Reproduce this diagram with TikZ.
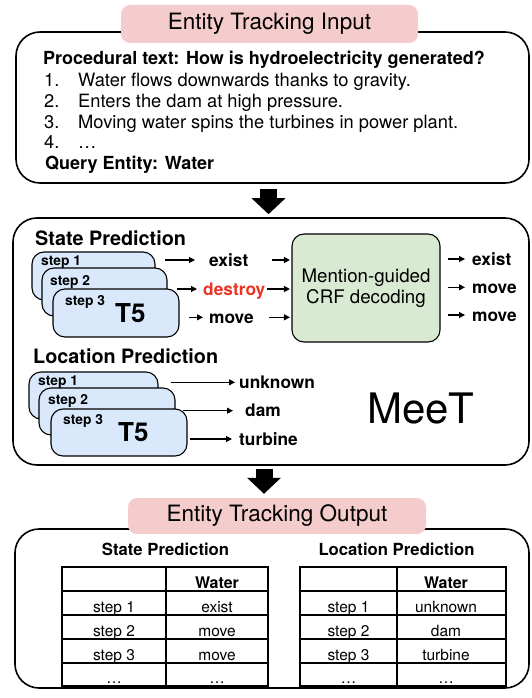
\documentclass[tikz,border=0pt]{standalone}
\usepackage{fontspec}
\setmainfont{TeX Gyre Heros}
\usetikzlibrary{arrows.meta}
\definecolor{pillpink}{HTML}{F4CCCC}
\definecolor{stepblue}{HTML}{DAE8FC}
\definecolor{crfgreen}{HTML}{D9EAD3}
\definecolor{destroyred}{HTML}{EB3323}
\tikzset{
	bigbox/.style = {draw, line width = 1.6pt, rounded corners = 24pt},
	pill/.style = {fill = pillpink, rounded corners = 9pt, minimum width = 297pt, minimum height = 38pt, font = \fontsize{22.5}{26}\selectfont},
	stepbox/.style = {draw, fill = stepblue, line width = 1.1pt, rounded corners = 12pt, minimum height = 48pt},
	txt/.style = {inner sep = 0pt, anchor = base west, font = \fontsize{18.3}{21}\selectfont},
	txtb/.style = {txt, font = \fontsize{18}{21}\selectfont\bfseries},
	head/.style = {txt, font = \fontsize{19.8}{23}\selectfont\bfseries},
	steplbl/.style = {txt, font = \fontsize{13.8}{16}\selectfont\bfseries},
	tfive/.style = {txt, font = \fontsize{26}{30}\selectfont\bfseries},
	pred/.style = {txt, font = \fontsize{17.3}{20}\selectfont\bfseries, text height = 15pt, text depth = 3pt},
	arr/.style = {line width = 1.1pt, shorten < = 9.5pt, shorten > = 6pt, -{Triangle[length = 6pt, width = 6pt]}},
	bigarrow/.style = {line width = 17pt, -{Triangle[length = 16pt, width = 33pt]}},
	tbl/.style = {line width = 1.2pt},
	thead/.style = {inner sep = 0pt, anchor = base, font = \fontsize{16.7}{19}\selectfont\bfseries},
	cell/.style = {inner sep = 0pt, anchor = base, font = \fontsize{15.5}{18}\selectfont},
	cellb/.style = {cell, font = \fontsize{16}{18}\selectfont\bfseries},
}
\begin{document}
\begin{tikzpicture}[x = 1pt, y = -1pt]
	\useasboundingbox (0,0) rectangle (532,698);
	\node [bigbox, minimum width = 513pt, minimum height = 151pt](inbox) at (272.5,107.5) {};
	\node [pill](inpill) at (269.5,24) {Entity Tracking Input};
	\node [txtb](proc) at (43,65) {Procedural text: How is hydroelectricity generated?};
	\node [txt](n1) at (44,86.7) {1.};
	\node [txt](l1) at (78,86.7) {Water flows downwards thanks to gravity.};
	\node [txt](n2) at (44,107.7) {2.};
	\node [txt](l2) at (78,107.7) {Enters the dam at high pressure.};
	\node [txt](n3) at (44,128.3) {3.};
	\node [txt](l3) at (78,128.3) {Moving water spins the turbines in power plant.};
	\node [txt](n4) at (44,148.3) {4.};
	\node [txt](l4) at (78,148.3) {…};
	\node [txtb](query) at (45,169) {Query Entity: Water};
	\node [bigbox, minimum width = 516pt, minimum height = 247pt](meet) at (271,341.5) {};
	\draw [bigarrow, shorten < = 5pt, shorten > = 3pt]([xshift = -4pt]inbox.south) -- ([xshift = -4pt]inbox.south |- meet.north);
	\node [head](stp) at (35,245) {State Prediction};
	\node [stepbox, minimum width = 123pt](st1) at (93.5,276) {};
	\node [steplbl](sl1) at (41,265.7) {step 1};
	\node [stepbox, minimum width = 125pt](st2) at (104.5,292) {};
	\node [steplbl](sl2) at (50,285) {step 2};
	\node [stepbox, minimum width = 126pt](st3) at (116,313) {};
	\node [steplbl](sl3) at (65,305) {step 3};
	\node [tfive](t5s) at (115,322.7) {T5};
	\node [pred](ex1) at (209,266) {exist};
	\node [pred, text = destroyred](de1) at (203,295) {destroy};
	\node [pred](mv1) at (209,323.3) {move};
	\node [draw, fill = crfgreen, line width = 1.1pt, rounded corners = 12pt, minimum width = 148pt, minimum height = 108pt, align = center, font = \fontsize{18.7}{20.7}\selectfont](crf) at (366,288) {Mention-guided\\CRF decoding};
	\node [pred](ox1) at (472,265) {exist};
	\node [pred](ox2) at (472,293.3) {move};
	\node [pred](ox3) at (472,321) {move};
	\draw [arr, shorten > = 14pt](st1.east |- ex1.west) -- (ex1.west);
	\draw [arr](st2.east |- de1.west) -- (de1.west);
	\draw [arr](st3.east |- mv1.west) -- (mv1.west);
	\draw [arr, shorten < = 24pt, shorten > = 1.5pt](ex1.east) -- (crf.west |- ex1.east);
	\draw [arr, shorten < = 1pt, shorten > = 1.5pt](de1.east) -- (crf.west |- de1.east);
	\draw [arr, shorten < = 15pt, shorten > = 1.5pt](mv1.east) -- (crf.west |- mv1.east);
	\draw [arr, shorten < = 7pt, shorten > = 7pt](crf.east |- ox1.west) -- (ox1.west);
	\draw [arr, shorten < = 7pt, shorten > = 7pt](crf.east |- ox2.west) -- (ox2.west);
	\draw [arr, shorten < = 7pt, shorten > = 7pt](crf.east |- ox3.west) -- (ox3.west);
	\node [head](lcp) at (33,363.3) {Location Prediction};
	\node [stepbox, minimum width = 129pt, minimum height = 47pt](lb1) at (93.5,395.5) {};
	\node [steplbl](ll1) at (38,385) {step 1};
	\node [stepbox, minimum width = 136pt, minimum height = 47pt](lb2) at (107,411.5) {};
	\node [steplbl](ll2) at (48,404.3) {step 2};
	\node [stepbox, minimum width = 136pt, minimum height = 47pt](lb3) at (119,432.5) {};
	\node [steplbl](ll3) at (63,424.3) {step 3};
	\node [tfive](t5l) at (118,441.7) {T5};
	\node [pred](lu) at (239,388.3) {unknown};
	\node [pred](ld) at (245,416.7) {dam};
	\node [pred](lt) at (239,445) {turbine};
	\draw [arr, shorten < = 12.7pt, shorten > = 4pt](lb1.east |- lu.west) -- (lu.west);
	\draw [arr, shorten < = 7pt, shorten > = 12pt](lb2.east |- ld.west) -- (ld.west);
	\draw [arr, shorten < = 2pt, shorten > = 7pt](lb3.east |- lt.west) -- (lt.west);
	\node [txt, font = \fontsize{42}{48}\selectfont](meetname) at (367,423.3) {MeeT};
	\node [bigbox, minimum width = 514pt, minimum height = 159pt](outbox) at (272,608.5) {};
	\node [pill, minimum width = 298pt, minimum height = 36pt](outpill) at (277,516) {Entity Tracking Output};
	\draw [bigarrow, shorten < = 3pt, shorten > = 4pt]([xshift = -7pt]meet.south) -- ([xshift = -7pt]meet.south |- outpill.north);
	\node [thead](sph) at (165.5,555) {State Prediction};
	\node [thead](lph) at (396.5,555) {Location Prediction};
	\draw [tbl] (62,567) rectangle (268,686);
	\draw [tbl] (166,567) -- (166,686) (62,591) -- (268,591) (62,615) -- (268,615) (62,639) -- (268,639) (62,663) -- (268,663);
	\draw [tbl] (300,567) rectangle (506,686);
	\draw [tbl] (397,567) -- (397,686) (300,591) -- (506,591) (300,615) -- (506,615) (300,639) -- (506,639) (300,663) -- (506,663);
	\node [cellb](swh) at (217,588) {Water};
	\node [cell](ss1) at (114,612) {step 1};
	\node [cell](sv1) at (217,612) {exist};
	\node [cell](ss2) at (114,636) {step 2};
	\node [cell](sv2) at (217,636) {move};
	\node [cell](ss3) at (114,660) {step 3};
	\node [cell](sv3) at (217,660) {move};
	\node [cell](ssd) at (114,683) {…};
	\node [cell](svd) at (217,683) {…};
	\node [cellb](lwh) at (446,588) {Water};
	\node [cell](ls1) at (348.5,612) {step 1};
	\node [cell](lv1) at (446,612) {unknown};
	\node [cell](ls2) at (348.5,636) {step 2};
	\node [cell](lv2) at (446,636) {dam};
	\node [cell](ls3) at (348.5,660) {step 3};
	\node [cell](lv3) at (446,660) {turbine};
	\node [cell](lsd) at (348.5,683) {…};
	\node [cell](lvd) at (446,683) {…};
\end{tikzpicture}
\end{document}
